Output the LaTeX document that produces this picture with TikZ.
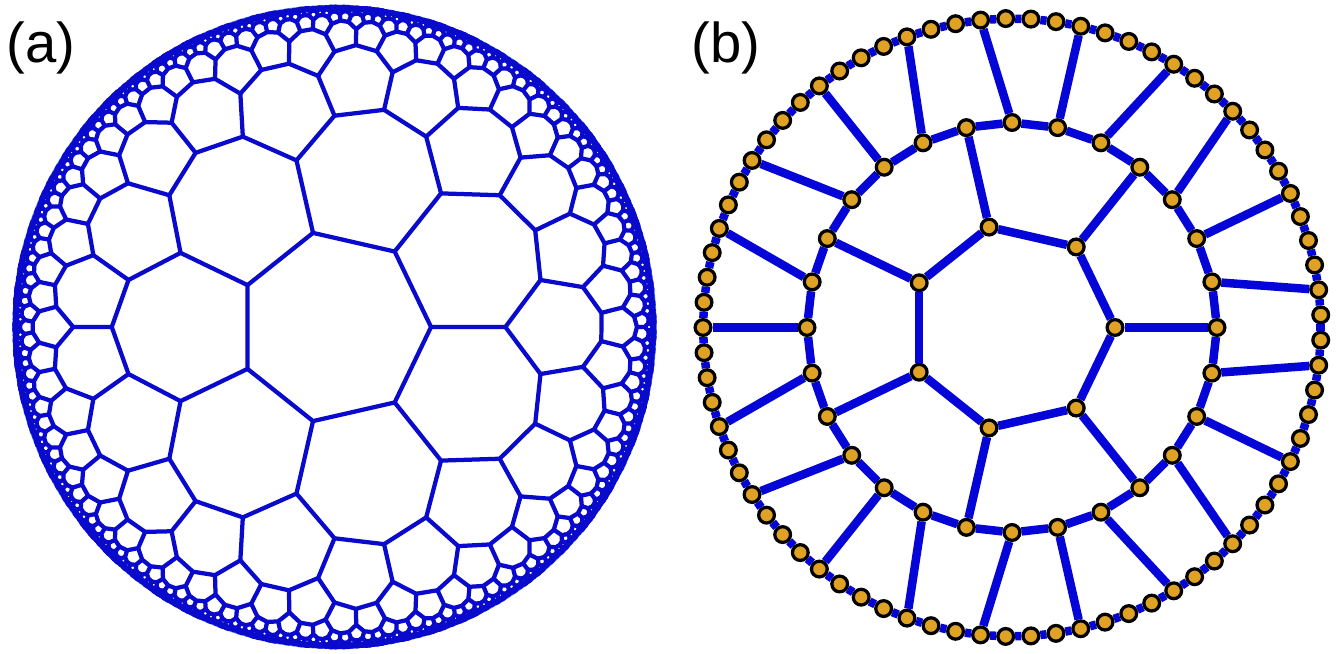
\documentclass[tikz,border=0pt]{standalone}
\usepackage{fontspec}
\setmainfont{Liberation Sans}
\usetikzlibrary{backgrounds}

\definecolor{tileblue}{RGB}{10,10,205}
\definecolor{rimblue}{RGB}{110,155,240}
\definecolor{bondblue}{RGB}{5,5,215}
\definecolor{dotfill}{RGB}{224,162,36}

\tikzset{
  tileedge/.style={draw=tileblue, line width=0.085cm, line join=round, line cap=round},
  bond/.style={draw=bondblue, line width=0.17cm},
  dot/.style={circle, draw=black, fill=dotfill, line width=0.065cm,
              minimum size=0.315cm, inner sep=0pt},
  panellabel/.style={anchor=base west, inner sep=0pt,
                     font=\fontsize{32}{38}\selectfont}
}

% {7,3} tiling: one seventh of the heptagons, layer by layer
\ExplSyntaxOn
\int_step_inline:nnn {0} {6}
  {
    \fp_new:c {l_hyp_x#1_fp}  \fp_new:c {l_hyp_y#1_fp}
    \fp_new:c {l_hyp_nx#1_fp} \fp_new:c {l_hyp_ny#1_fp}
  }
\fp_new:N \l_hyp_ux_fp \fp_new:N \l_hyp_uy_fp
\fp_new:N \l_hyp_vx_fp \fp_new:N \l_hyp_vy_fp
\fp_new:N \l_hyp_a_fp  \fp_new:N \l_hyp_b_fp
\fp_new:N \l_hyp_det_fp
\fp_new:N \l_hyp_cx_fp \fp_new:N \l_hyp_cy_fp
\fp_new:N \l_hyp_rr_fp \fp_new:N \l_hyp_s_fp
\fp_new:N \l_hyp_dx_fp \fp_new:N \l_hyp_dy_fp
\fp_new:N \l_hyp_r_fp
\int_new:N \l_hyp_depth_int
\int_new:N \g_hyp_maxdepth_int
\tl_new:N \g_hyp_tiles_tl

% geodesic through vertices #1 and #2
\cs_new_protected:Npn \hyp_mirror:nn #1#2
  {
    \fp_set_eq:Nc \l_hyp_ux_fp {l_hyp_x#1_fp}
    \fp_set_eq:Nc \l_hyp_uy_fp {l_hyp_y#1_fp}
    \fp_set_eq:Nc \l_hyp_vx_fp {l_hyp_x#2_fp}
    \fp_set_eq:Nc \l_hyp_vy_fp {l_hyp_y#2_fp}
    \fp_set:Nn \l_hyp_a_fp
      { (1 + \l_hyp_ux_fp*\l_hyp_ux_fp + \l_hyp_uy_fp*\l_hyp_uy_fp)/2 }
    \fp_set:Nn \l_hyp_b_fp
      { (1 + \l_hyp_vx_fp*\l_hyp_vx_fp + \l_hyp_vy_fp*\l_hyp_vy_fp)/2 }
    \fp_set:Nn \l_hyp_det_fp
      { \l_hyp_ux_fp*\l_hyp_vy_fp - \l_hyp_uy_fp*\l_hyp_vx_fp }
    \fp_set:Nn \l_hyp_cx_fp
      { (\l_hyp_a_fp*\l_hyp_vy_fp - \l_hyp_b_fp*\l_hyp_uy_fp)/\l_hyp_det_fp }
    \fp_set:Nn \l_hyp_cy_fp
      { (\l_hyp_b_fp*\l_hyp_ux_fp - \l_hyp_a_fp*\l_hyp_vx_fp)/\l_hyp_det_fp }
    \fp_set:Nn \l_hyp_rr_fp
      { \l_hyp_cx_fp*\l_hyp_cx_fp + \l_hyp_cy_fp*\l_hyp_cy_fp - 1 }
  }

% new vertex #1 = mirror image of old vertex #2
\cs_new_protected:Npn \hyp_reflect:nn #1#2
  {
    \fp_set:Nn \l_hyp_dx_fp { \use:c {l_hyp_x#2_fp} - \l_hyp_cx_fp }
    \fp_set:Nn \l_hyp_dy_fp { \use:c {l_hyp_y#2_fp} - \l_hyp_cy_fp }
    \fp_set:Nn \l_hyp_s_fp
      { \l_hyp_rr_fp / (\l_hyp_dx_fp*\l_hyp_dx_fp + \l_hyp_dy_fp*\l_hyp_dy_fp) }
    \fp_set:cn {l_hyp_nx#1_fp} { \l_hyp_cx_fp + \l_hyp_s_fp*\l_hyp_dx_fp }
    \fp_set:cn {l_hyp_ny#1_fp} { \l_hyp_cy_fp + \l_hyp_s_fp*\l_hyp_dy_fp }
  }

\cs_new:Npn \hyp_coord:n #1
  {
    ( \fp_eval:n { round(\use:c {l_hyp_x#1_fp}, 5) } ,
      \fp_eval:n { round(\use:c {l_hyp_y#1_fp}, 5) } )
  }
\cs_new:Npn \hyp_point:n #1 { \hyp_coord:n {#1} -- }

% outer edges and one spoke of the current heptagon
\cs_new_protected:Npn \hyp_store:n #1
  {
    \tl_gput_right:Nx \g_hyp_tiles_tl
      {
        \exp_not:N \draw [tileedge]
        \int_step_function:nnN {#1} {6} \hyp_point:n
        \hyp_coord:n {0} ;
      }
  }

% neighbour across edge (#1, #1+1), of type #2
\cs_new_protected:Npn \hyp_child:nn #1#2
  {
    \group_begin:
      \hyp_mirror:nn {#1} { \int_mod:nn {#1+1} {7} }
      \fp_set_eq:cc {l_hyp_nx0_fp} {l_hyp_x \int_mod:nn {#1+1} {7} _fp}
      \fp_set_eq:cc {l_hyp_ny0_fp} {l_hyp_y \int_mod:nn {#1+1} {7} _fp}
      \fp_set_eq:cc {l_hyp_nx1_fp} {l_hyp_x#1_fp}
      \fp_set_eq:cc {l_hyp_ny1_fp} {l_hyp_y#1_fp}
      \int_step_inline:nnn {2} {6}
        { \hyp_reflect:nn {##1} { \int_mod:nn {#1+8-##1} {7} } }
      \int_step_inline:nnn {0} {6}
        {
          \fp_set_eq:cc {l_hyp_x##1_fp} {l_hyp_nx##1_fp}
          \fp_set_eq:cc {l_hyp_y##1_fp} {l_hyp_ny##1_fp}
        }
      \hyp_tile:n {#2}
    \group_end:
  }

\cs_new_protected:Npn \hyp_tile:n #1
  {
    \int_incr:N \l_hyp_depth_int
    \str_if_eq:nnTF {#1} {A}
      { \hyp_store:n {2} }
      { \hyp_store:n {3} }
    \int_compare:nNnT { \l_hyp_depth_int } < { \g_hyp_maxdepth_int }
      {
        \str_if_eq:nnTF {#1} {A}
          { \hyp_child:nn {4} {A} \hyp_child:nn {3} {A} \hyp_child:nn {2} {B} }
          { \hyp_child:nn {4} {A} \hyp_child:nn {3} {B} }
      }
  }

% central heptagon, listed clockwise
\fp_set:Nn \l_hyp_r_fp { sqrt( cos(10*pi/21) / cos(4*pi/21) ) }
\int_step_inline:nnn {0} {6}
  {
    \fp_set:cn {l_hyp_x#1_fp} { \l_hyp_r_fp * cos( (1-#1)*2*pi/7 ) }
    \fp_set:cn {l_hyp_y#1_fp} { \l_hyp_r_fp * sin( (1-#1)*2*pi/7 ) }
  }
\int_gset:Nn \g_hyp_maxdepth_int {6}
\hyp_child:nn {0} {A}

\newcommand\hyptiles{\tl_use:N \g_hyp_tiles_tl}
\ExplSyntaxOff

\begin{document}
\begin{tikzpicture}[x=0.02cm, y=0.02cm]
  \useasboundingbox (0,0) rectangle (1342,653);

  % Labels
  \node[panellabel] (laba) at (6.5,590) {(a)};
  \node[panellabel] (labb) at (691.5,590) {(b)};

  % (a) heptagon tiling of the disk
  \coordinate (diskc) at (334.5,326);
  \draw[rimblue, line width=0.07cm] (diskc) circle[radius=320.3];
  \draw[tileblue, line width=0.08cm] (diskc) circle[radius=318.3];
  \begin{scope}[shift={(diskc)}, scale=321]
    \draw[tileedge] (0:0.30074) \foreach \a in {1,...,6} { -- (\a*360/7:0.30074) } -- cycle;
    \foreach \k in {0,...,6} {
      \begin{scope}[rotate=\k*360/7]
        \hyptiles
      \end{scope}
    }
  \end{scope}

  % (b) three rings of the tiling
  \begin{scope}[shift={(1012,325.5)}]
    \foreach \k in {0,...,6}
      \node[dot] (i\k) at (\k*360/7:103) {};
    \foreach \k in {0,...,27}
      \node[dot] (m\k) at (\k*360/28:205) {};
    \foreach \k in {0,...,76}
      \node[dot] (o\k) at ({(\k+0.5)/77*360}:309) {};
  \end{scope}

  % Edges
  \begin{scope}[on background layer]
    \foreach \k in {0,...,6} {
      \pgfmathtruncatemacro\n{mod(\k+1,7)}
      \pgfmathtruncatemacro\m{4*\k}
      \draw[bond] (i\k) -- (i\n);
      \draw[bond] (i\k) -- (m\m);
    }
    \foreach \k in {0,...,27} {
      \pgfmathtruncatemacro\n{mod(\k+1,28)}
      \draw[bond] (m\k) -- (m\n);
    }
    \foreach \k in {0,...,76} {
      \pgfmathtruncatemacro\n{mod(\k+1,77)}
      \draw[bond] (o\k) -- (o\n);
    }
    \foreach \k in {0,...,6} {
      \pgfmathtruncatemacro\ma{4*\k+1}
      \pgfmathtruncatemacro\mb{4*\k+2}
      \pgfmathtruncatemacro\mc{4*\k+3}
      \pgfmathtruncatemacro\oa{11*\k+1}
      \pgfmathtruncatemacro\ob{11*\k+5}
      \pgfmathtruncatemacro\oc{11*\k+9}
      \draw[bond] (m\ma) -- (o\oa);
      \draw[bond] (m\mb) -- (o\ob);
      \draw[bond] (m\mc) -- (o\oc);
    }
  \end{scope}
\end{tikzpicture}
\end{document}
